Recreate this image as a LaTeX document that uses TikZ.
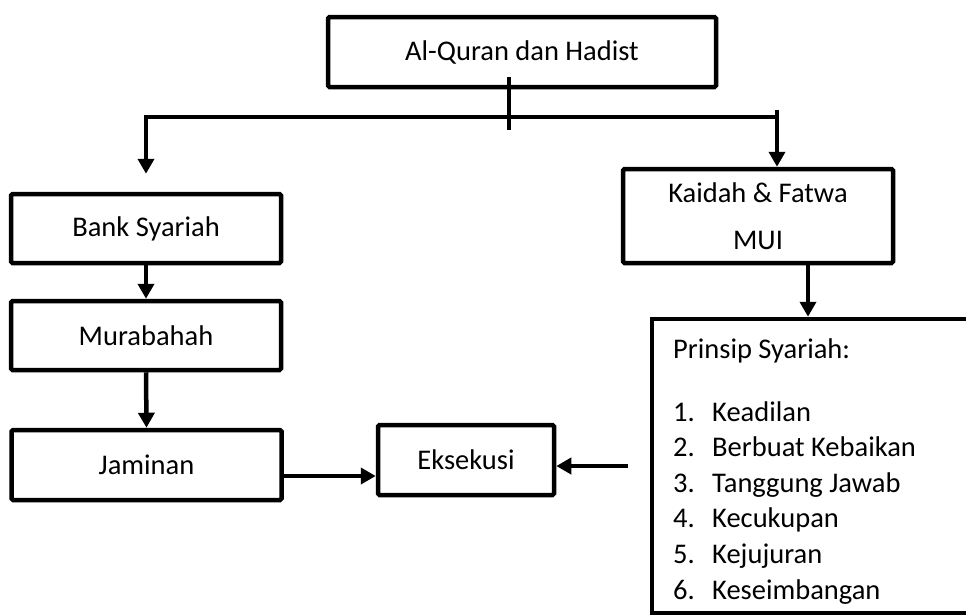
\documentclass[tikz,border=0pt]{standalone}
\usepackage{fontspec}
\setmainfont{Carlito}
\usetikzlibrary{arrows.meta}
\begin{document}
\begin{tikzpicture}[x=1pt,y=-1pt,
  box/.style={draw=black, line width=4.5pt, rounded corners=1.5pt, rectangle, inner sep=0pt,
    font=\fontsize{28.5}{34}\selectfont},
  conn/.style={draw=black, line width=4.5pt},
  arr/.style={conn, -{Triangle[width=16pt,length=15pt]}},
  listtxt/.style={anchor=base west, inner sep=0pt, font=\fontsize{28.5}{34}\selectfont}]
\fill[white] (0,0) rectangle (966,614);
\useasboundingbox (0,0) rectangle (966,614);

% boxes
\node[box, minimum width=388pt, minimum height=70pt] (quran) at (522,52) {Al-Quran dan Hadist};
\node[box, minimum width=270pt, minimum height=69pt] (bank) at (146,228.5) {Bank Syariah};
\node[box, minimum width=270pt, minimum height=69pt] (murabahah) at (146,335.5) {Murabahah};
\node[box, minimum width=270pt, minimum height=70pt] (jaminan) at (146.5,465) {Jaminan};
\node[box, minimum width=176pt, minimum height=70pt] (eksekusi) at (466,460) {Eksekusi};
\node[box, minimum width=270pt, minimum height=94pt, align=center,
      font=\fontsize{28.5}{47}\selectfont] (kaidah) at (758,216) {Kaidah \& Fatwa\\MUI};
\node[box, rounded corners=0pt, minimum width=350pt, minimum height=294pt] (prinsip) at (827,466) {};

% text of Prinsip box
\node[listtxt] (ptitle) at (673,358) {Prinsip Syariah:};
\foreach \t [count=\i] in {Keadilan, Berbuat Kebaikan, Tanggung Jawab, Kecukupan, Kejujuran, Keseimbangan}{
  \node[listtxt] (item\i) at (673,{421+35.6*(\i-1)}) {\makebox[39pt][l]{\i.}\t};
}

% coordinates
\coordinate (trunktop) at (509,77);
\coordinate (trunkbot) at (509,130);
\coordinate (busL) at (146,117);
\coordinate (busR) at (777,117);
\coordinate (stubR) at (777,110);
\coordinate (tailE) at (628,466);

% connectors
\draw[conn] (trunktop) -- (trunkbot);
\draw[arr] (busR) -- (busL) -- ([yshift=18pt]bank.north);
\draw[arr] (stubR) -- (stubR |- kaidah.north);
\draw[arr] ([xshift=50pt]kaidah.south) -- ([xshift=50pt]kaidah.south |- prinsip.north);
\draw[arr] (bank.south) -- (murabahah.north);
\draw[arr] (murabahah.south) -- (jaminan.north);
\draw[arr] ([yshift=-11pt]jaminan.east) -- ([yshift=-11pt]jaminan.east -| eksekusi.west);
\draw[arr] (tailE) -- (tailE -| eksekusi.east);
\end{tikzpicture}
\end{document}
